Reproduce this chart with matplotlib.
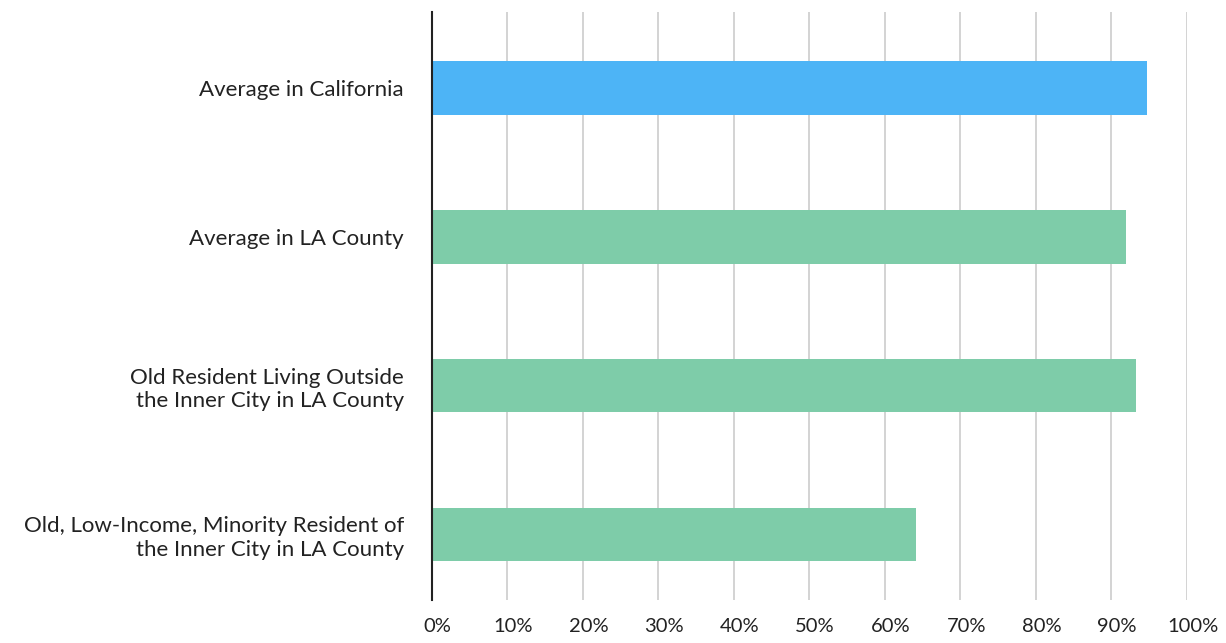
import matplotlib.pyplot as plt
import matplotlib.transforms as mtransforms
from matplotlib.ticker import PercentFormatter

# Share of residents, by group
groups = [
    "Average in California",
    "Average in LA County",
    "Old Resident Living Outside\nthe Inner City in LA County",
    "Old, Low-Income, Minority Resident of\nthe Inner City in LA County",
]
values = [94.7, 91.9, 93.3, 64.2]
bar_colors = ["#4db4f6", "#7ecca9", "#7ecca9", "#7ecca9"]
ticks = list(range(0, 101, 10))

plt.rcParams['font.family'] = ['Lato', 'DejaVu Sans']

fig = plt.figure(figsize=(12.26, 6.43), dpi=100)
ax = fig.add_axes([0.352, 0.067, 0.616, 0.914])

y = list(range(len(groups)))
ax.barh(y, values, height=0.36, color=bar_colors, zorder=3)

ax.set_xlim(0, 100)
ax.set_ylim(3.44, -0.51)
ax.set_xticks(ticks)
ax.xaxis.set_major_formatter(PercentFormatter(decimals=0))
ax.set_yticks(y)
ax.set_yticklabels(groups, ha='right', multialignment='right')

ax.grid(axis='x', color='#cccccc', linewidth=1.2, zorder=0)
for side in ['top', 'right', 'bottom']:
    ax.spines[side].set_visible(False)
ax.spines['left'].set_color('#222222')
ax.spines['left'].set_linewidth(1.5)
ax.spines['left'].set_zorder(4)

ax.tick_params(axis='x', length=0, pad=13, labelsize=14.5, colors='#222222')
ax.tick_params(axis='y', length=0, pad=20, labelsize=16, colors='#222222')

# nudge the percent labels a little to the right
shift = mtransforms.ScaledTranslation(6 / 100, 0, fig.dpi_scale_trans)
for lbl in ax.get_xticklabels():
    lbl.set_transform(lbl.get_transform() + shift)

fig.savefig("out.png", dpi=100)
